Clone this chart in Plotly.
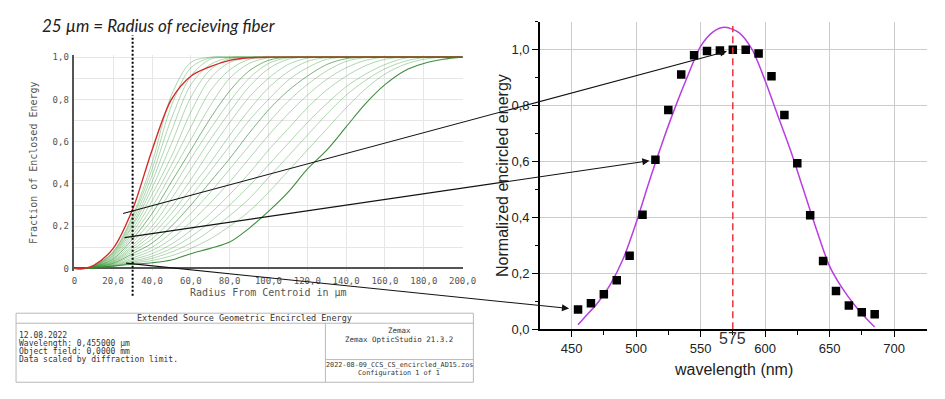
import plotly.graph_objects as go

W, H = 945, 399

# ---------------- left chart: Zemax encircled energy ----------------
RADIUS_UM = [0, 5, 10, 20, 30, 40, 50, 60, 70, 80, 90, 100, 110, 120, 130, 140, 150, 160, 170, 180, 190, 200]
RED_FRACTION = [0, 0, 0.015, 0.095, 0.28, 0.56, 0.80, 0.91, 0.955, 0.985, 0.997, 1, 1, 1, 1, 1, 1, 1, 1, 1, 1, 1]
GREEN_FRACTIONS = [
    [0, 0, 0.012, 0.08, 0.25, 0.5, 0.82, 0.975, 1, 1, 1, 1, 1, 1, 1, 1, 1, 1, 1, 1, 1, 1],
    [0, 0, 0.011, 0.078, 0.24, 0.47, 0.77, 0.95, 0.997, 1, 1, 1, 1, 1, 1, 1, 1, 1, 1, 1, 1, 1],
    [0, 0, 0.01, 0.074, 0.225, 0.44, 0.71, 0.91, 0.99, 1, 1, 1, 1, 1, 1, 1, 1, 1, 1, 1, 1, 1],
    [0, 0, 0.01, 0.07, 0.21, 0.41, 0.65, 0.87, 0.965, 0.998, 1, 1, 1, 1, 1, 1, 1, 1, 1, 1, 1, 1],
    [0, 0, 0.009, 0.065, 0.2, 0.38, 0.59, 0.81, 0.94, 0.993, 1, 1, 1, 1, 1, 1, 1, 1, 1, 1, 1, 1],
    [0, 0, 0.009, 0.06, 0.185, 0.35, 0.53, 0.74, 0.9, 0.975, 0.998, 1, 1, 1, 1, 1, 1, 1, 1, 1, 1, 1],
    [0, 0, 0.008, 0.055, 0.17, 0.32, 0.49, 0.67, 0.84, 0.94, 0.99, 1, 1, 1, 1, 1, 1, 1, 1, 1, 1, 1],
    [0, 0, 0.008, 0.05, 0.155, 0.29, 0.45, 0.61, 0.77, 0.9, 0.97, 0.997, 1, 1, 1, 1, 1, 1, 1, 1, 1, 1],
    [0, 0, 0.007, 0.045, 0.14, 0.26, 0.41, 0.56, 0.71, 0.84, 0.935, 0.985, 1, 1, 1, 1, 1, 1, 1, 1, 1, 1],
    [0, 0, 0.007, 0.04, 0.125, 0.23, 0.37, 0.52, 0.66, 0.79, 0.9, 0.97, 0.997, 1, 1, 1, 1, 1, 1, 1, 1, 1],
    [0, 0, 0.006, 0.036, 0.11, 0.2, 0.33, 0.47, 0.61, 0.74, 0.86, 0.945, 0.99, 1, 1, 1, 1, 1, 1, 1, 1, 1],
    [0, 0, 0.006, 0.033, 0.1, 0.18, 0.29, 0.42, 0.56, 0.69, 0.81, 0.9, 0.965, 0.995, 1, 1, 1, 1, 1, 1, 1, 1],
    [0, 0, 0.005, 0.03, 0.09, 0.16, 0.26, 0.38, 0.5, 0.63, 0.75, 0.855, 0.93, 0.98, 0.998, 1, 1, 1, 1, 1, 1, 1],
    [0, 0, 0.005, 0.027, 0.08, 0.14, 0.23, 0.34, 0.46, 0.58, 0.7, 0.8, 0.89, 0.95, 0.99, 1, 1, 1, 1, 1, 1, 1],
    [0, 0, 0.005, 0.024, 0.07, 0.12, 0.2, 0.3, 0.41, 0.52, 0.64, 0.75, 0.84, 0.91, 0.965, 0.993, 1, 1, 1, 1, 1, 1],
    [0, 0, 0.004, 0.021, 0.06, 0.1, 0.17, 0.26, 0.36, 0.47, 0.58, 0.69, 0.79, 0.87, 0.935, 0.98, 0.998, 1, 1, 1, 1, 1],
    [0, 0, 0.004, 0.018, 0.05, 0.085, 0.14, 0.22, 0.31, 0.41, 0.52, 0.63, 0.73, 0.82, 0.895, 0.95, 0.985, 1, 1, 1, 1, 1],
    [0, 0, 0.003, 0.015, 0.042, 0.07, 0.115, 0.18, 0.26, 0.35, 0.45, 0.56, 0.66, 0.76, 0.845, 0.91, 0.96, 0.99, 1, 1, 1, 1],
    [0, 0, 0.003, 0.013, 0.035, 0.058, 0.095, 0.15, 0.22, 0.3, 0.39, 0.49, 0.59, 0.69, 0.78, 0.86, 0.92, 0.965, 0.995, 1, 1, 1],
    [0, 0, 0.002, 0.011, 0.03, 0.048, 0.078, 0.12, 0.18, 0.25, 0.33, 0.43, 0.53, 0.63, 0.73, 0.82, 0.89, 0.945, 0.98, 0.998, 1, 1],
    [0, 0, 0.002, 0.009, 0.025, 0.038, 0.06, 0.095, 0.14, 0.2, 0.27, 0.36, 0.46, 0.56, 0.66, 0.76, 0.85, 0.92, 0.965, 0.99, 1, 1],
    [0, 0, 0.003, 0.012, 0.02, 0.027, 0.04, 0.07, 0.095, 0.125, 0.19, 0.27, 0.36, 0.47, 0.56, 0.67, 0.78, 0.87, 0.935, 0.97, 0.99, 1],
]
DARK_GREEN = [21]
MID_GREEN = [8, 14]
FIBER_RADIUS_UM = 30
ARROW_SOURCE_CURVES = ["red", 7, 21]

L_X_TICKS = [0, 20, 40, 60, 80, 100, 120, 140, 160, 180, 200]
L_X_LABELS = ["0", "20,0", "40,0", "60,0", "80,0", "100,0", "120,0", "140,0", "160,0", "180,0", "200,0"]
L_Y_TICKS = [0, 0.2, 0.4, 0.6, 0.8, 1.0]
L_Y_LABELS = ["0", "0,2", "0,4", "0,6", "0,8", "1,0"]
L_Y_MINOR = [0.1, 0.3, 0.5, 0.7, 0.9]

# ---------------- right chart: normalized encircled energy ----------------
WAVELENGTH_NM = [455, 465, 475, 485, 495, 505, 515, 525, 535, 545, 555, 565,
                 575, 585, 595, 605, 615, 625, 635, 645, 655, 665, 675, 685]
NORM_ENERGY = [0.071, 0.093, 0.125, 0.175, 0.263, 0.41, 0.606, 0.784, 0.911, 0.98, 0.995, 0.997,
               1.0, 1.0, 0.986, 0.905, 0.766, 0.594, 0.408, 0.244, 0.137, 0.085, 0.061, 0.054]
FIT_NM = [455, 460, 470, 480, 490, 500, 510, 520, 530, 540, 550, 560, 569,
          580, 590, 600, 610, 620, 630, 640, 650, 660, 670, 680, 685]
FIT_ENERGY = [0.016, 0.042, 0.093, 0.16, 0.252, 0.38, 0.526, 0.663, 0.79, 0.906, 1.012, 1.065, 1.08,
              1.06, 1.0, 0.89, 0.763, 0.637, 0.496, 0.355, 0.226, 0.146, 0.083, 0.031, 0.008]
PEAK_NM = 575
PEAK_LINE_TOP = 1.085
ARROW_TARGET_NM = [575, 515, 455]
ARROW_STANDOFF = [6, 6, 9]

R_X_TICKS = [450, 500, 550, 600, 650, 700]
R_X_MINOR = [475, 525, 575, 625, 675]
R_Y_TICKS = [0, 0.2, 0.4, 0.6, 0.8, 1.0]
R_Y_LABELS = ["0,0", "0,2", "0,4", "0,6", "0,8", "1,0"]
R_Y_MINOR = [0.1, 0.3, 0.5, 0.7, 0.9, 1.1]

# ---------------- geometry ----------------
def dom_x(p0, p1):
    return [p0 / W, p1 / W]

def dom_y(p_top, p_bottom):
    return [1 - p_bottom / H, 1 - p_top / H]

L_X_RANGE = [0, 200]
L_Y_RANGE = [-0.01, 1.01]
L_PX = (273.0 - 55.7)
L_X_DOM = dom_x(72.7, 468.0)
L_Y_DOM = dom_y(273.0 - 1.01 * L_PX, 273.0 + 0.01 * L_PX)

R_X_RANGE = [425.4, 725.4]
R_Y_RANGE = [0, 1.1]
R_X_DOM = dom_x(546.7, 940.7)
R_Y_DOM = dom_y(335.5 - 1.1 * 287.5, 335.5)


def frac(v, rng):
    return (v - rng[0]) / (rng[1] - rng[0])

def px_x(v, rng, dom):
    return W * (dom[0] + frac(v, rng) * (dom[1] - dom[0]))

def px_y(v, rng, dom):
    return H * (1 - (dom[0] + frac(v, rng) * (dom[1] - dom[0])))


fig = go.Figure()

# left curves
for i, ys in enumerate(GREEN_FRACTIONS):
    if i in DARK_GREEN:
        col, wid = "rgba(40,130,40,0.9)", 1.1
    elif i in MID_GREEN:
        col, wid = "rgba(50,140,50,0.65)", 1.0
    else:
        col, wid = "rgba(60,155,60,0.45)", 0.9
    fig.add_trace(go.Scatter(
        x=RADIUS_UM, y=ys, mode="lines", xaxis="x", yaxis="y",
        line=dict(color=col, width=wid, shape="spline", smoothing=0.9),
        hoverinfo="skip"))
fig.add_trace(go.Scatter(
    x=RADIUS_UM, y=RED_FRACTION, mode="lines", xaxis="x", yaxis="y",
    line=dict(color="#d42a2a", width=1.4, shape="spline", smoothing=0.9), hoverinfo="skip"))

# right chart
fig.add_trace(go.Scatter(
    x=FIT_NM, y=FIT_ENERGY, mode="lines", xaxis="x2", yaxis="y2",
    line=dict(color="#b83ee0", width=1.5, shape="spline", smoothing=0.8), hoverinfo="skip"))
fig.add_trace(go.Scatter(
    x=WAVELENGTH_NM, y=NORM_ENERGY, mode="markers", xaxis="x2", yaxis="y2",
    marker=dict(symbol="square", size=8.5, color="black"), hoverinfo="skip"))

grid_l = "#e6e6e6"
mono = "DejaVu Sans Mono"
fig.update_layout(
    width=W, height=H, autosize=False,
    margin=dict(l=0, r=0, t=0, b=0),
    paper_bgcolor="white", plot_bgcolor="white", showlegend=False,
    xaxis=dict(domain=L_X_DOM, range=L_X_RANGE, anchor="y", tickvals=L_X_TICKS, ticktext=L_X_LABELS,
               showgrid=True, gridcolor=grid_l, gridwidth=1, zeroline=False, showline=False,
               ticks="outside", ticklen=2, tickcolor="rgba(0,0,0,0)",
               tickfont=dict(family=mono, size=9, color="#555")),
    yaxis=dict(domain=L_Y_DOM, range=L_Y_RANGE, anchor="x", tickvals=L_Y_TICKS, ticktext=L_Y_LABELS,
               showgrid=True, gridcolor=grid_l, gridwidth=1,
               minor=dict(tickvals=L_Y_MINOR, showgrid=True, gridcolor=grid_l, ticks=""),
               zeroline=True, zerolinecolor="#555", zerolinewidth=1.5,
               showline=True, linecolor="#555", linewidth=1.5,
               ticks="outside", ticklen=2, tickcolor="rgba(0,0,0,0)",
               tickfont=dict(family=mono, size=9, color="#555")),
    xaxis2=dict(domain=R_X_DOM, range=R_X_RANGE, anchor="y2", tickvals=R_X_TICKS,
                showgrid=True, gridcolor="#cccccc", gridwidth=1, zeroline=False,
                showline=True, linecolor="black", linewidth=1.5,
                ticks="outside", ticklen=6, tickwidth=1.2, tickcolor="black",
                minor=dict(tickvals=R_X_MINOR, ticks="outside", ticklen=3.5, tickcolor="black", showgrid=False),
                tickfont=dict(family="Liberation Sans", size=13, color="#222")),
    yaxis2=dict(domain=R_Y_DOM, range=R_Y_RANGE, anchor="x2", tickvals=R_Y_TICKS, ticktext=R_Y_LABELS,
                showgrid=True, gridcolor="#cccccc", gridwidth=1, zeroline=False,
                showline=True, linecolor="black", linewidth=1.5,
                ticks="outside", ticklen=6, tickwidth=1.2, tickcolor="black",
                minor=dict(tickvals=R_Y_MINOR, ticks="outside", ticklen=3.5, tickcolor="black", showgrid=False),
                tickfont=dict(family="Liberation Sans", size=13, color="#222")),
)

shapes = []
# dotted fiber-radius marker
shapes.append(dict(type="line", xref="x domain", yref="y domain",
                   x0=frac(FIBER_RADIUS_UM, L_X_RANGE), x1=frac(FIBER_RADIUS_UM, L_X_RANGE),
                   y0=frac(-0.129, L_Y_RANGE), y1=frac(1.104, L_Y_RANGE),
                   line=dict(color="black", width=2, dash="2px,2px")))
# red dashed peak line
shapes.append(dict(type="line", xref="x2", yref="y2", x0=PEAK_NM, x1=PEAK_NM, y0=0, y1=PEAK_LINE_TOP,
                   line=dict(color="#e8333a", width=1.5, dash="7px,4px")))

# info table (Zemax footer)
BOX_L, BOX_R, BOX_T, BOX_B = 13.3, 479.0, 319.0, 390.0
TITLE_B, DIV_X, RDIV_Y = 329.3, 328.3, 366.7
tbl_line = dict(color="#b8b8b8", width=1)
shapes.append(dict(type="rect", xref="paper", yref="paper", x0=BOX_L / W, x1=BOX_R / W,
                   y0=1 - BOX_B / H, y1=1 - BOX_T / H, line=tbl_line))
shapes.append(dict(type="line", xref="paper", yref="paper", x0=BOX_L / W, x1=BOX_R / W,
                   y0=1 - TITLE_B / H, y1=1 - TITLE_B / H, line=tbl_line))
shapes.append(dict(type="line", xref="paper", yref="paper", x0=DIV_X / W, x1=DIV_X / W,
                   y0=1 - BOX_B / H, y1=1 - TITLE_B / H, line=tbl_line))
shapes.append(dict(type="line", xref="paper", yref="paper", x0=DIV_X / W, x1=BOX_R / W,
                   y0=1 - RDIV_Y / H, y1=1 - RDIV_Y / H, line=tbl_line))

ann = []

def ptext(text, x, y, size, family, color="#222", xanchor="center", angle=0):
    ann.append(dict(text=text, x=x / W, y=1 - y / H, xref="paper", yref="paper", showarrow=False,
                    xanchor=xanchor, yanchor="middle", textangle=angle,
                    font=dict(size=size, family=family, color=color)))

ptext("<i>25 µm = Radius of recieving fiber</i>", 38, 23, 17, "Lato", "#222", "left")
ptext("Fraction of Enclosed Energy", 31.7, 164.4, 10, mono, "#555", angle=-90)
ptext("Radius From Centroid in µm", 270, 297.3, 10, mono, "#555")
ptext("Normalized encircled energy", 508, 177, 16, "Liberation Sans", "#222", angle=-90)
ptext("wavelength (nm)", 743.7, 376.7, 16, "Liberation Sans", "#222")

ptext("Extended Source Geometric Encircled Energy", (BOX_L + BOX_R) / 2, 324.2, 8.5, mono, "#333")
LEFT_LINES = ["12.08.2022", "Wavelength: 0,455000 µm", "Object field: 0,0000 mm", "Data scaled by diffraction limit."]
for k, t in enumerate(LEFT_LINES):
    ptext(t, 14.5, 341.7 + 8.35 * k, 8, mono, "#333", "left")
ptext("Zemax", (DIV_X + BOX_R) / 2, 336.7, 7.5, mono, "#333")
ptext("Zemax OpticStudio 21.3.2", (DIV_X + BOX_R) / 2, 346, 7.5, mono, "#333")
ptext("2022-08-09_CCS_CS_encircled_AD15.zos", (DIV_X + BOX_R) / 2, 372.2, 6.8, mono, "#333")
ptext("Configuration 1 of 1", (DIV_X + BOX_R) / 2, 380.2, 6.8, mono, "#333")

ann.append(dict(text=str(PEAK_NM), x=PEAK_NM, xref="x2", y=1 - 345 / H, yref="paper", showarrow=False,
                xanchor="center", yanchor="middle", font=dict(size=16, family="Liberation Sans", color="#333")))

ridx = RADIUS_UM.index(FIBER_RADIUS_UM)
for src, nm, so in zip(ARROW_SOURCE_CURVES, ARROW_TARGET_NM, ARROW_STANDOFF):
    fv = RED_FRACTION[ridx] if src == "red" else GREEN_FRACTIONS[src][ridx]
    ev = NORM_ENERGY[WAVELENGTH_NM.index(nm)]
    tx, ty = px_x(FIBER_RADIUS_UM, L_X_RANGE, L_X_DOM), px_y(fv, L_Y_RANGE, L_Y_DOM)
    hx, hy = px_x(nm, R_X_RANGE, R_X_DOM), px_y(ev, R_Y_RANGE, R_Y_DOM)
    ann.append(dict(text="", x=nm, y=ev, xref="x2", yref="y2", axref="pixel", ayref="pixel",
                    ax=tx - hx, ay=ty - hy, showarrow=True, arrowhead=2, arrowsize=1.3,
                    arrowwidth=1.1, arrowcolor="#111", standoff=so))

fig.update_layout(shapes=shapes, annotations=ann)
fig.write_html("out.html",
               post_script="document.body.style.margin='0';document.body.style.overflow='hidden';")
